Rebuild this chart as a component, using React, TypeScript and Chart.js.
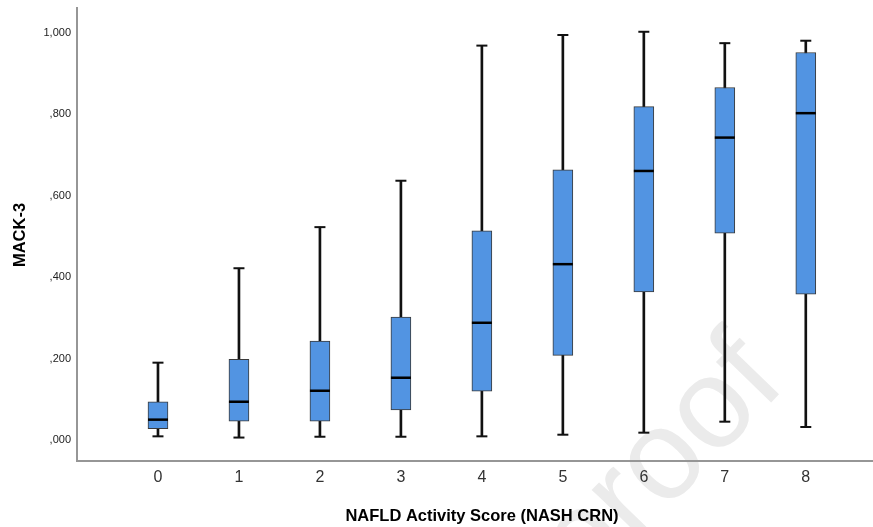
import React, { useEffect, useRef } from "react";
import { Chart, registerables } from "chart.js";

Chart.register(...registerables);

const categories = [0, 1, 2, 3, 4, 5, 6, 7, 8];
const whiskerLow = [0.009, 0.006, 0.008, 0.008, 0.009, 0.013, 0.018, 0.045, 0.032];
const q1 = [0.028, 0.046, 0.046, 0.074, 0.12, 0.208, 0.364, 0.508, 0.358];
const median = [0.05, 0.094, 0.121, 0.153, 0.288, 0.432, 0.661, 0.743, 0.803];
const q3 = [0.094, 0.198, 0.243, 0.302, 0.514, 0.664, 0.819, 0.866, 0.952];
const whiskerHigh = [0.19, 0.422, 0.523, 0.637, 0.969, 0.995, 1.003, 0.975, 0.981];
const yTicks = [0, 0.2, 0.4, 0.6, 0.8, 1.0];

const xTitle = "NAFLD Activity Score (NASH CRN)";
const yTitle = "MACK-3";
const watermark = "Journal Pre-proof";

const FONT = '"Liberation Sans", Arial, sans-serif';

function fmtY(v: number): string {
  const s = v.toFixed(3).replace(".", ",");
  return s.startsWith("0") ? s.slice(1) : s;
}

const boxExtras = {
  id: "boxExtras",
  beforeDraw(chart: any) {
    const ctx = chart.ctx;
    ctx.save();
    ctx.translate(788, 385);
    ctx.rotate(-0.8);
    ctx.font = `128px ${FONT}`;
    ctx.fillStyle = "#ebebeb";
    ctx.textAlign = "right";
    ctx.textBaseline = "alphabetic";
    ctx.fillText(watermark, 0, 0);
    ctx.restore();
  },
  afterDatasetsDraw(chart: any) {
    const { ctx } = chart;
    const xs = chart.scales.x;
    const ys = chart.scales.y;
    ctx.save();
    categories.forEach((c, i) => {
      const px = xs.getPixelForValue(c);
      ctx.strokeStyle = "#000";
      ctx.lineWidth = 2.5;
      ctx.beginPath();
      const my = ys.getPixelForValue(median[i]);
      ctx.moveTo(px - 10, my);
      ctx.lineTo(px + 10, my);
      ctx.stroke();
      ctx.lineWidth = 2;
      ctx.strokeStyle = "#111";
      [whiskerLow[i], whiskerHigh[i]].forEach((v) => {
        const wy = ys.getPixelForValue(v);
        ctx.beginPath();
        ctx.moveTo(px - 5.5, wy);
        ctx.lineTo(px + 5.5, wy);
        ctx.stroke();
      });
    });
    ctx.restore();
  },
  afterDraw(chart: any) {
    const ctx = chart.ctx;
    ctx.save();
    ctx.fillStyle = "#000";
    ctx.font = `bold 16.5px ${FONT}`;
    ctx.textAlign = "center";
    ctx.textBaseline = "middle";
    ctx.fillText(xTitle, 482, 516);
    ctx.translate(20, 235);
    ctx.rotate(-Math.PI / 2);
    ctx.fillText(yTitle, 0, 0);
    ctx.restore();
  },
};

export default function App() {
  const ref = useRef<HTMLCanvasElement | null>(null);
  useEffect(() => {
    document.body.style.margin = "0";
    const canvas = ref.current;
    if (!canvas) return;
    const chart = new Chart(canvas, {
      type: "bar",
      data: {
        datasets: [
          {
            label: "box",
            data: categories.map((c, i) => ({ x: c, y: [q1[i], q3[i]] })) as any,
            backgroundColor: "#5294e2",
            borderColor: "#3a3a3a",
            borderWidth: 1,
            borderSkipped: false,
            barThickness: 20,
            grouped: false,
            order: 0,
          } as any,
          {
            label: "whisker",
            data: categories.map((c, i) => ({ x: c, y: [whiskerLow[i], whiskerHigh[i]] })) as any,
            backgroundColor: "#111",
            borderWidth: 0,
            barThickness: 2,
            grouped: false,
            order: 1,
          } as any,
        ],
      },
      options: {
        responsive: false,
        animation: false,
        devicePixelRatio: 1,
        layout: { padding: { top: 8, right: 0, left: 0, bottom: 0 } },
        plugins: { legend: { display: false }, tooltip: { enabled: false } },
        scales: {
          x: {
            type: "linear",
            offset: false,
            min: -1,
            max: 8.83,
            grid: { display: false, drawTicks: false, offset: false },
            border: { display: true, color: "#969696", width: 2 },
            afterBuildTicks: (s: any) => {
              s.ticks = categories.map((v) => ({ value: v }));
            },
            afterFit: (s: any) => {
              s.height = 66;
              s.paddingLeft = 0;
              s.paddingRight = 0;
            },
            ticks: {
              padding: 7,
              color: "#333",
              font: { family: FONT, size: 16 },
              maxRotation: 0,
              autoSkip: false,
              callback: (v: any) => String(v),
            },
          },
          y: {
            type: "linear",
            min: -0.0516,
            max: 1.0614,
            grid: { display: false, drawTicks: false },
            border: { display: true, color: "#969696", width: 2 },
            afterBuildTicks: (s: any) => {
              s.ticks = yTicks.map((v) => ({ value: v }));
            },
            afterFit: (s: any) => {
              s.width = 77;
              s.paddingTop = 0;
              s.paddingBottom = 0;
            },
            ticks: {
              padding: 6,
              color: "#222",
              font: { family: FONT, size: 11 },
              autoSkip: false,
              callback: (v: any) => fmtY(Number(v)),
            },
          },
        },
      },
      plugins: [boxExtras],
    });
    return () => chart.destroy();
  }, []);
  return (
    <div style={{ width: 873, height: 527 }}>
      <canvas ref={ref} width={873} height={527} style={{ display: "block" }} />
    </div>
  );
}
